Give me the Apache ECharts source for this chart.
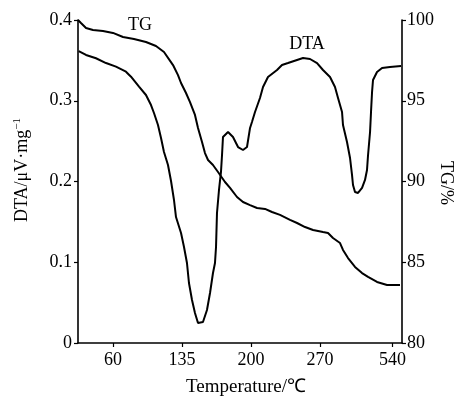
<!DOCTYPE html>
<html>
<head>
<meta charset="utf-8">
<script src="https://cdn.jsdelivr.net/npm/echarts@6/dist/echarts.min.js"></script>
<style>
  html, body { margin: 0; padding: 0; background: #fff; }
  #main { width: 458px; height: 396px; }
</style>
</head>
<body>
<div id="main"></div>
<script>
// x positions are in tick units: 0 = "60", 1 = "135", ... (labels are not evenly spaced in value)
var xTickPos = [0, 1, 2, 3, 4.05];
var xTickLabels = ['60', '135', '200', '270', '540'];

var dtaX = [-0.497, -0.391, -0.246, -0.101, 0.043, 0.188, 0.261, 0.377, 0.478, 0.551, 0.594, 0.652,
  0.696, 0.739, 0.797, 0.841, 0.884, 0.913, 0.986, 1.029, 1.072, 1.101, 1.145, 1.188, 1.232, 1.304,
  1.362, 1.406, 1.449, 1.478, 1.493, 1.507, 1.536, 1.565, 1.580, 1.594, 1.667, 1.739, 1.812, 1.884,
  1.942, 1.986, 2.014, 2.058, 2.130, 2.174, 2.246, 2.377, 2.449, 2.536, 2.667, 2.754, 2.855, 2.957,
  3.043, 3.145, 3.217, 3.261, 3.319, 3.333, 3.391, 3.435, 3.464, 3.478, 3.507, 3.551, 3.609, 3.652,
  3.681, 3.696, 3.725, 3.739, 3.754, 3.768, 3.826, 3.899, 4.014, 4.174];
var dtaY = [0.3616, 0.3567, 0.3526, 0.3467, 0.3422, 0.3360, 0.3298, 0.3174, 0.3071, 0.2947, 0.2848, 0.2700,
  0.2539, 0.2365, 0.2204, 0.2006, 0.1771, 0.1560, 0.1362, 0.1189, 0.0991, 0.0743, 0.0533, 0.0372, 0.0248, 0.0260,
  0.0409, 0.0619, 0.0867, 0.0991, 0.1189, 0.1610, 0.1895, 0.2118, 0.2328, 0.2551, 0.2613, 0.2551, 0.2427, 0.2390,
  0.2427, 0.2663, 0.2737, 0.2861, 0.3034, 0.3170, 0.3294, 0.3381, 0.3443, 0.3467, 0.3505, 0.3529, 0.3517, 0.3467,
  0.3381, 0.3294, 0.3170, 0.3034, 0.2861, 0.2700, 0.2489, 0.2291, 0.2080, 0.1957, 0.1870, 0.1858, 0.1920, 0.2019,
  0.2142, 0.2328, 0.2613, 0.2861, 0.3108, 0.3257, 0.3356, 0.3406, 0.3418, 0.3430];

var tgX = [-0.507, -0.464, -0.391, -0.290, -0.145, 0, 0.145, 0.304, 0.478, 0.623, 0.739, 0.870, 0.942,
  0.986, 1.058, 1.116, 1.188, 1.232, 1.290, 1.333, 1.377, 1.449, 1.522, 1.623, 1.696, 1.797, 1.884,
  1.986, 2.087, 2.203, 2.304, 2.420, 2.565, 2.667, 2.783, 2.899, 3.043, 3.116, 3.188, 3.290, 3.333,
  3.406, 3.507, 3.609, 3.696, 3.826, 3.971, 4.159];
var tgY = [100.0, 99.81, 99.50, 99.38, 99.32, 99.20, 98.95, 98.82, 98.64, 98.39, 98.02, 97.21, 96.59,
  96.10, 95.48, 94.92, 94.12, 93.31, 92.45, 91.76, 91.33, 91.02, 90.59, 89.97, 89.60, 89.04, 88.73,
  88.54, 88.36, 88.30, 88.11, 87.93, 87.62, 87.43, 87.18, 87.00, 86.87, 86.81, 86.50, 86.19, 85.76,
  85.26, 84.71, 84.33, 84.09, 83.78, 83.59, 83.59];

function zip(xs, ys) {
  return xs.map(function (x, i) { return [x, ys[i]]; });
}

var FONT = 'Liberation Serif';
var chart = echarts.init(document.getElementById('main'));

var line = { show: true, onZero: false, lineStyle: { color: '#000', width: 1.6 } };
var tick = { show: true, inside: false, length: 4, lineStyle: { color: '#000', width: 1.2 } };

chart.setOption({
  animation: false,
  backgroundColor: '#fff',
  grid: { left: 78, right: 56, top: 20, bottom: 53, containLabel: false, outerBoundsMode: 'none' },
  xAxis: {
    type: 'value',
    min: -0.507,
    max: 4.188,
    axisLine: line,
    axisTick: { show: true, length: 4, lineStyle: { color: '#000', width: 1.2 }, customValues: xTickPos },
    splitLine: { show: false },
    axisLabel: {
      color: '#000', fontFamily: FONT, fontSize: 18, margin: 8,
      customValues: xTickPos,
      formatter: function (v) {
        var i = xTickPos.indexOf(v);
        return i >= 0 ? xTickLabels[i] : '';
      }
    },
    name: 'Temperature/℃',
    nameLocation: 'middle',
    nameGap: 35,
    nameTextStyle: { color: '#000', fontFamily: FONT, fontSize: 19, padding: [0, 0, 0, 12] }
  },
  yAxis: [
    {
      type: 'value', min: 0, max: 0.4, interval: 0.1,
      axisLine: line, axisTick: tick, splitLine: { show: false },
      axisLabel: {
        color: '#000', fontFamily: FONT, fontSize: 18, margin: 6,
        formatter: function (v) { return v === 0 ? '0' : v.toFixed(1); }
      }
    },
    {
      type: 'value', min: 80, max: 100, interval: 5, position: 'right',
      axisLine: line, axisTick: tick, splitLine: { show: false },
      axisLabel: { color: '#000', fontFamily: FONT, fontSize: 18, margin: 5 }
    }
  ],
  graphic: [
    {
      type: 'text', x: 22, y: 170, rotation: Math.PI / 2,
      style: {
        text: '{a|DTA/μV·mg}{s|−1}', align: 'center', verticalAlign: 'middle', fill: '#000',
        rich: {
          a: { fontFamily: FONT, fontSize: 18, fill: '#000' },
          s: { fontFamily: FONT, fontSize: 11, fill: '#000', padding: [0, 0, 9, 0] }
        }
      }
    },
    {
      type: 'text', x: 446, y: 183, rotation: -Math.PI / 2,
      style: { text: 'TG/%', align: 'center', verticalAlign: 'middle', fill: '#000',
        font: '18px "Liberation Serif"' }
    },
    {
      type: 'text', x: 140, y: 25,
      style: { text: 'TG', align: 'center', verticalAlign: 'middle', fill: '#000',
        font: '18px "Liberation Serif"' }
    },
    {
      type: 'text', x: 307, y: 44,
      style: { text: 'DTA', align: 'center', verticalAlign: 'middle', fill: '#000',
        font: '18px "Liberation Serif"' }
    }
  ],
  series: [
    {
      name: 'DTA', type: 'line', yAxisIndex: 0, showSymbol: false, smooth: false,
      lineStyle: { color: '#000', width: 2 },
      data: zip(dtaX, dtaY)
    },
    {
      name: 'TG', type: 'line', yAxisIndex: 1, showSymbol: false, smooth: false,
      lineStyle: { color: '#000', width: 2 },
      data: zip(tgX, tgY)
    }
  ]
});

window.onresize = chart.resize;
</script>
</body>
</html>
